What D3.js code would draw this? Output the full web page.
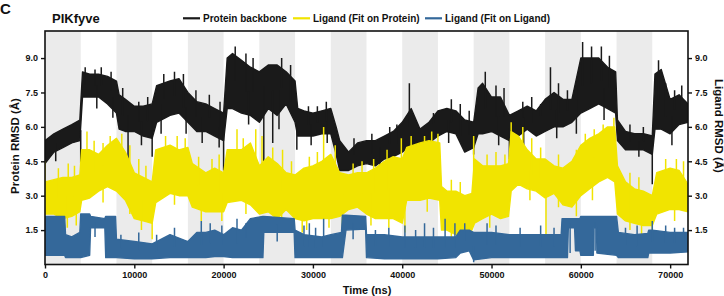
<!DOCTYPE html>
<html><head><meta charset="utf-8">
<script src="https://cdn.jsdelivr.net/npm/d3@7"></script>
<style>
body{margin:0;background:#fff}
svg{display:block}
text{font-family:"Liberation Sans",Arial,sans-serif;font-weight:bold;fill:#111}
</style>
</head><body>
<svg id="c" width="724" height="296"></svg>
<script>
// ---------- data ----------
const xTicks = [0,10000,20000,30000,40000,50000,60000,70000];
const yTicks = [1.5,3.0,4.5,6.0,7.5,9.0];
const bandStarts = [0,8000,16000,24000,32000,40000,48000,56000,64000];
const seriesNames = ["Protein backbone","Ligand (Fit on Protein)","Ligand (Fit on Ligand)"];
const seriesColors = ["#1a1a1a","#f1e400","#34689a"];

// Protein backbone: time (ns), lower and upper envelope of the fluctuating trace
const blackT  = [0,1000,2000,3000,3900,4200,5000,6000,7000,8000,8300,9000,10000,11000,12000,12500,14000,15000,16000,17000,18000,19000,20000,20400,21000,22000,23000,24000,25000,26000,27000,28000,28300,29000,30000,31000,32000,32600,33000,34000,35000,36000,37000,38000,39000,40000,41000,42000,43000,44000,45000,46000,47000,48000,48500,49000,50000,51000,52000,53000,54000,55000,56000,57000,58000,59000,60000,61000,62000,63000,63900,64100,65000,66000,67000,68000,68300,69000,70000,71000,72000];
const blackLo = [4.4,4.9,5.1,5.3,5.4,7.3,7.3,7.3,7.0,6.6,5.9,5.8,5.8,5.6,5.5,6.2,6.5,6.6,6.2,5.8,5.8,5.6,5.4,6.8,6.8,6.6,6.5,6.2,6.8,6.5,7.0,6.2,5.6,5.6,5.6,5.7,5.7,4.8,4.1,4.1,4.3,4.4,4.3,4.6,4.7,4.9,5.2,5.0,5.3,5.6,5.8,5.7,4.9,5.1,5.7,5.7,5.8,5.6,5.4,5.6,5.9,5.6,5.8,6.0,6.0,6.2,6.6,6.8,7.0,6.8,6.6,5.4,5.0,5.0,5.0,4.8,5.9,5.9,5.7,6.1,6.2];
const blackHi = [5.4,5.7,5.9,6.1,6.3,8.4,8.3,8.3,8.2,8.0,7.4,7.2,6.9,6.9,7.0,7.8,8.0,8.1,7.5,7.1,7.0,6.8,6.6,9.0,9.2,8.9,8.6,8.4,8.7,8.7,8.4,8.0,6.8,6.7,6.6,6.7,6.8,6.0,5.4,4.9,5.3,5.4,5.4,5.6,5.8,6.2,6.8,5.9,6.2,6.7,6.8,6.7,6.3,6.2,7.7,7.9,7.3,7.3,6.5,6.7,6.9,6.7,7.2,7.5,7.2,7.2,9.0,9.0,9.0,8.6,8.4,6.3,5.8,5.7,5.7,5.6,8.3,8.5,7.2,7.4,7.0];
// short excursions beyond the envelope: [time, value]
const blackSpikes = [[4000,4.4],[9300,4.3],[12000,4.7],[20000,4.1],[21300,9.5],[24500,4.5],[25500,5.3],[28200,5.0],[40800,7.9],[48000,4.8],[49300,8.4],[52000,4.6],[56600,8.6],[60200,9.7],[68000,3.5],[68700,8.9],
  [4500,8.6],[5600,8.5],[6300,8.6],[7400,8.4],[8700,7.7],[10500,7.1],[11500,7.3],[13300,8.3],[14500,8.4],[15500,8.3],[16900,7.6],[18400,7.4],[19600,7.1],[22500,9.2],[23300,9.0],[26500,9.0],[27500,8.7],[29500,6.9],[30500,6.9],[31500,7.1],[34600,5.5],[36600,5.7],[38600,6.0],[39400,6.1],[43500,6.6],[45500,7.2],[46500,7.0],[47500,6.7],[50500,7.8],[51400,7.7],[53500,7.1],[54500,7.3],[55500,7.0],[57500,7.9],[58500,7.6],[61200,9.5],[62300,9.5],[63200,9.1],[65500,6.1],[67000,6.0],[69500,7.9],[70500,7.6],[71300,7.8],
  [1200,4.5],[5800,6.8],[7600,6.4],[10800,5.2],[13000,5.7],[15800,5.7],[17600,5.3],[19500,5.1],[22800,6.1],[26200,5.9],[29800,5.2],[31600,5.3],[37500,4.0],[41500,4.7],[45200,5.3],[50800,5.2],[53600,5.2],[57300,5.5],[59500,5.7],[62600,6.3],[66500,4.7],[70200,5.2]];

// Ligand (Fit on Protein)
const yellowT  = [0,1000,2000,3000,3900,4100,5000,6000,7000,8000,9000,10000,11000,12000,12400,14000,15000,16000,16500,18000,19000,20000,20400,22000,23000,24000,25000,26000,27000,28000,29000,30000,31000,32000,33000,34000,35000,36000,37000,38000,39000,40000,40500,42000,43000,44200,44400,45000,46000,47000,47800,48100,49000,50000,51000,51900,52200,53000,54000,55000,56000,57000,58000,59000,60000,61000,62000,63000,63800,64100,65000,66000,67000,68000,68500,70000,71000,72000];
const yellowLo = [2.2,2.2,2.0,2.1,2.3,2.8,2.9,3.2,3.4,3.2,2.8,2.0,1.9,1.8,2.7,3.1,3.0,3.0,2.5,2.3,2.3,2.3,2.7,2.8,2.6,2.2,2.3,2.0,2.4,2.0,1.9,2.0,2.0,2.0,2.1,2.4,2.5,2.2,2.0,2.0,2.0,1.8,2.8,2.8,2.9,2.8,1.5,1.5,1.3,1.4,1.5,1.8,2.0,2.2,2.0,2.1,3.2,3.5,3.3,3.2,2.9,3.1,2.6,2.5,3.0,3.3,3.6,3.8,3.6,2.2,1.9,1.8,1.7,1.7,2.2,2.4,2.4,2.3];
const yellowHi = [3.6,3.7,3.8,3.8,3.9,5.0,5.0,4.8,5.2,5.5,4.9,4.0,3.8,3.6,5.0,5.2,5.0,5.1,4.4,4.0,4.2,4.0,5.0,5.0,5.3,4.3,4.7,4.4,4.0,3.9,4.2,4.3,4.5,4.8,4.0,3.9,4.0,4.0,4.2,4.5,4.7,4.6,5.1,5.3,5.4,5.3,3.4,3.2,3.2,3.0,3.1,4.6,4.3,4.3,4.3,4.4,5.8,5.6,5.0,4.6,4.6,4.3,4.2,4.5,5.2,5.5,5.7,6.0,6.0,4.3,3.6,3.3,3.2,3.0,4.0,4.2,4.1,3.5];
const yellowSpikes = [[0,4.5],[4700,5.8],[8600,5.7],[12000,1.1],[21500,5.9],[23600,5.9],[24300,5.6],[28800,1.4],[31200,6.0],[33300,1.4],[39900,5.5],[40300,1.4],[44000,5.7],[48000,5.6],[52200,6.2],[56100,1.3],[63700,6.4],[68000,1.4],
  [1500,4.2],[2600,4.4],[3300,4.3],[5500,5.4],[6500,5.3],[7300,5.6],[9500,5.2],[10500,4.6],[11300,4.3],[13500,5.6],[14800,5.6],[15700,5.5],[17200,4.7],[18700,4.6],[19500,4.8],[22200,5.5],[25500,5.1],[26600,5.0],[27600,4.5],[29600,4.7],[30500,4.9],[32500,5.2],[34500,4.4],[35500,4.5],[36800,4.6],[38300,5.0],[41000,5.6],[42500,5.6],[43300,5.8],[45500,3.7],[46500,3.6],[49500,4.8],[50500,4.9],[51500,4.8],[53500,6.0],[54500,5.5],[55500,5.1],[57500,4.8],[59500,5.0],[60500,5.7],[61500,5.9],[62500,6.1],[65500,4.0],[66500,3.8],[69500,4.6],[70700,4.6],[71500,4.5],
  [2500,1.6],[3500,1.7],[6500,2.7],[9500,2.2],[10800,1.5],[14500,2.6],[17500,1.9],[19800,1.9],[22500,2.2],[26500,1.5],[29300,1.5],[31800,1.6],[36500,1.7],[38500,1.6],[42800,2.3],[45500,1.0],[49800,1.6],[54300,2.8],[57500,2.5],[59500,2.1],[61300,2.8],[65500,1.5],[66800,1.3],[70500,1.9]];

// Ligand (Fit on Ligand)
const blueT  = [0,2200,2300,3000,3900,4000,5000,5100,6700,6800,7900,8000,10000,12000,14000,16000,17000,18000,19000,20000,21000,22000,23000,24400,24500,27900,28000,29000,31000,32000,33200,33300,33700,35900,36000,38000,40000,42000,44000,46000,46500,47500,48000,50000,52000,54000,56000,57800,57900,58500,58600,59300,59400,59900,60000,61400,61450,61750,61800,64000,64200,66000,67500,67600,68000,70000,72000];
const blueLo = [0.4,0.4,0.3,0.3,0.3,0.3,0.4,1.6,1.6,0.3,0.3,0.3,0.25,0.25,0.3,0.3,0.3,0.3,0.35,0.35,0.3,0.3,0.3,0.3,1.4,1.4,0.3,0.3,0.3,0.3,0.3,0.3,1.5,1.55,0.3,0.25,0.25,0.25,0.25,0.3,0.5,0.6,0.2,0.3,0.3,0.3,0.3,0.3,0.3,0.3,1.6,1.6,0.6,0.6,0.4,0.4,1.6,1.6,0.5,0.4,0.3,0.3,0.3,0.5,0.5,0.5,0.55];
const blueHi = [2.1,2.1,1.3,1.2,1.4,2.2,2.2,2.1,2.0,2.1,2.1,1.1,1.0,0.9,1.3,1.0,1.4,1.4,1.5,1.3,1.6,1.5,2.0,2.1,2.1,2.0,1.5,1.3,1.2,1.3,1.4,2.15,2.15,2.1,1.3,1.3,1.2,1.2,1.2,1.2,1.5,1.5,1.4,1.4,1.3,1.3,1.3,1.3,2.0,2.0,2.0,2.0,2.0,2.0,2.1,2.1,2.1,2.1,2.1,2.1,1.4,1.3,1.35,1.5,1.5,1.4,1.4];
const blueSpikes = [[17500,1.9],[21500,2.0],[29600,1.8],[31200,2.0],[40300,1.7],[42500,1.8],[44800,2.0],[45900,1.8],[48000,0.1],[68000,1.9],[71500,1.6],
  [8500,1.3],[10500,1.4],[12500,1.3],[14500,1.6],[18500,1.8],[19800,1.7],[22500,1.8],[29000,1.7],[30300,1.6],[37000,1.5],[38500,1.6],[41500,1.5],[43500,1.6],[47000,1.8],[49500,1.8],[50500,1.7],[53200,1.6],[55500,1.7],[57000,1.6],[65000,1.6],[66300,1.7],[69500,1.7],[70500,1.6],
  [5600,1.2],[26000,1.0],[34500,1.1],[58800,0.5],[61600,0.6]];

// ---------- drawing ----------
const L = 45, R = 688, T = 31, B = 264.5;
const svg = d3.select("#c");
const x = d3.scaleLinear().domain([0,72000]).range([L,R]);
const y = d3.scaleLinear().domain([0,10.18]).range([B,T]);

svg.append("defs").append("clipPath").attr("id","clip")
  .append("rect").attr("x",L).attr("y",T).attr("width",R-L).attr("height",B-T);

const plot = svg.append("g").attr("clip-path","url(#clip)");
plot.selectAll("rect.band").data(bandStarts).join("rect").attr("class","band")
  .attr("x",d=>x(d)).attr("y",T).attr("width",d=>x(d+4000)-x(d)).attr("height",B-T)
  .attr("fill","#ebebeb");

function rows(t,lo,hi){ return t.map((v,i)=>({t:v,lo:lo[i],hi:hi[i]})); }
const series = [
  {rows:rows(blackT,blackLo,blackHi), spikes:blackSpikes, color:seriesColors[0]},
  {rows:rows(yellowT,yellowLo,yellowHi), spikes:yellowSpikes, color:seriesColors[1]},
  {rows:rows(blueT,blueLo,blueHi), spikes:blueSpikes, color:seriesColors[2]}
];
const area = d3.area().x(d=>x(d.t)).y0(d=>y(d.lo)).y1(d=>y(d.hi));
const bis = d3.bisector(d=>d.t).center;
series.forEach(s=>{
  plot.append("path").datum(s.rows).attr("d",area)
    .attr("fill",s.color).attr("stroke",s.color).attr("stroke-width",1.4).attr("stroke-linejoin","round");
  plot.selectAll(null).data(s.spikes).join("line")
    .attr("x1",d=>x(d[0])).attr("x2",d=>x(d[0]))
    .attr("y1",d=>{const r=s.rows[bis(s.rows,d[0])]; const m=(r.lo+r.hi)/2; return y(m);})
    .attr("y2",d=>y(d[1]))
    .attr("stroke",s.color).attr("stroke-width",1.5);
});

// frame
svg.append("rect").attr("x",L).attr("y",T).attr("width",R-L).attr("height",B-T)
  .attr("fill","none").attr("stroke","#111").attr("stroke-width",1.6);

function styleAxis(g){
  g.select(".domain").remove();
  g.selectAll(".tick line").attr("stroke","#111").attr("stroke-width",1.4);
  g.selectAll(".tick text").style("font-size","9px").style("font-weight","bold")
   .style("font-family",'"Liberation Sans",Arial,sans-serif').attr("fill","#111");
}
svg.append("g").attr("transform",`translate(${L},0)`)
  .call(d3.axisLeft(y).tickValues(yTicks).tickFormat(d3.format(".1f")).tickSize(4).tickPadding(3))
  .call(styleAxis);
svg.append("g").attr("transform",`translate(${R},0)`)
  .call(d3.axisRight(y).tickValues(yTicks).tickFormat(d3.format(".1f")).tickSize(4).tickPadding(3))
  .call(styleAxis);
svg.append("g").attr("transform",`translate(0,${B})`)
  .call(d3.axisBottom(x).tickValues(xTicks).tickFormat(d3.format("d")).tickSize(4).tickPadding(3))
  .call(styleAxis);

// titles
svg.append("text").attr("x",0).attr("y",14).style("font-size","15px").text("C");
svg.append("text").attr("x",52).attr("y",23).style("font-size","13px").text("PIKfyve");
svg.append("text").attr("x",367).attr("y",294).attr("text-anchor","middle").style("font-size","11px").text("Time (ns)");
svg.append("text").attr("transform","translate(18.5,146) rotate(-90)").attr("text-anchor","middle")
  .style("font-size","11.5px").text("Protein RMSD (Å)");
svg.append("text").attr("transform","translate(715,126) rotate(90)").attr("text-anchor","middle")
  .style("font-size","11.5px").text("Ligand RMSD (Å)");

// legend
const legX = [183,293,425];
seriesNames.forEach((n,i)=>{
  svg.append("line").attr("x1",legX[i]).attr("x2",legX[i]+17).attr("y1",18.3).attr("y2",18.3)
    .attr("stroke",seriesColors[i]).attr("stroke-width",2.2);
  svg.append("text").attr("x",legX[i]+20).attr("y",21.5).style("font-size","10px").text(n);
});
</script>
</body></html>
